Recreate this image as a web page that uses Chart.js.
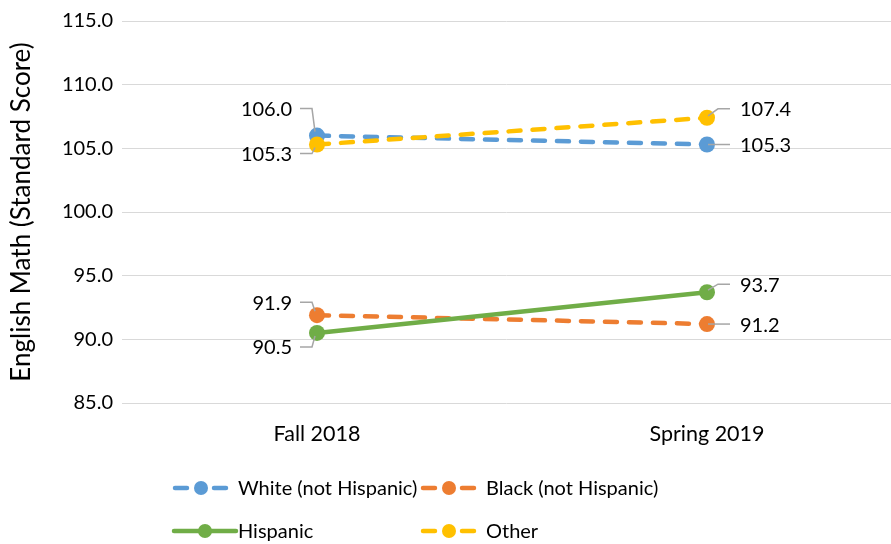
<!DOCTYPE html>
<html>
<head>
<meta charset="utf-8">
<script src="https://cdn.jsdelivr.net/npm/chart.js@4"></script>
<style>
  html, body { margin: 0; padding: 0; background: #fff; }
</style>
</head>
<body>
<canvas id="scoreChart" width="891" height="544"></canvas>
<script>
// Test terms and average standard scores per group
const terms = ['Fall 2018', 'Spring 2019'];
const groups = ['White (not Hispanic)', 'Black (not Hispanic)', 'Hispanic', 'Other'];
const white = [106.0, 105.3];
const black = [91.9, 91.2];
const hispanic = [90.5, 93.7];
const other = [105.3, 107.4];
const yTicks = [85, 90, 95, 100, 105, 110, 115];

const colors = ['#5B9BD5', '#ED7D31', '#70AD47', '#FFC000'];
const dashed = [true, true, false, true];
const drawOrder = [4, 3, 2, 1]; // "Other" ends up on top

// where each value label sits relative to its point
const labelSpots = [
  [{ side: 'left', dy: -27 }, { side: 'right', dy: 0 }],
  [{ side: 'left', dy: -13 }, { side: 'right', dy: 0 }],
  [{ side: 'left', dy: 14 }, { side: 'right', dy: -8 }],
  [{ side: 'left', dy: 9 }, { side: 'right', dy: -9 }],
];

const FONT = '20px Lato';
const TEXT = '#000';

Chart.defaults.font.family = 'Lato';
Chart.defaults.font.size = 20;
Chart.defaults.color = TEXT;

const series = [white, black, hispanic, other];

const datasets = series.map((vals, s) => ({
  label: groups[s],
  data: vals.map((v, i) => ({ x: i, y: v })),
  borderColor: colors[s],
  backgroundColor: colors[s],
  borderWidth: 4.5,
  borderDash: dashed[s] ? [12, 12] : [],
  borderCapStyle: 'round',
  pointRadius: 8,
  pointHoverRadius: 8,
  pointBorderWidth: 0,
  tension: 0,
  order: drawOrder[s],
}));

// Value labels with grey leader lines
const valueLabels = {
  id: 'valueLabels',
  afterDatasetsDraw(chart) {
    const c = chart.ctx;
    c.save();
    c.font = FONT;
    c.fillStyle = TEXT;
    c.textBaseline = 'middle';
    c.strokeStyle = '#A6A6A6';
    c.lineWidth = 1.5;
    chart.data.datasets.forEach((ds, s) => {
      const meta = chart.getDatasetMeta(s);
      meta.data.forEach((pt, i) => {
        const spot = labelSpots[s][i];
        const ty = pt.y + spot.dy;
        const txt = series[s][i].toFixed(1);
        c.beginPath();
        if (spot.side === 'left') {
          const right = pt.x - 25;
          c.moveTo(right + 8, ty);
          c.lineTo(pt.x - 5, ty);
          c.lineTo(pt.x - 2, pt.y + (spot.dy < 0 ? -4 : 3));
          c.stroke();
          c.textAlign = 'right';
          c.fillText(txt, right, ty + 1);
        } else {
          const left = pt.x + 33;
          if (spot.dy === 0) {
            c.moveTo(pt.x + 1, ty);
          } else {
            c.moveTo(pt.x + 1, pt.y - 2);
            c.lineTo(pt.x + 11, ty);
          }
          c.lineTo(pt.x + 23, ty);
          c.stroke();
          c.textAlign = 'left';
          c.fillText(txt, left, ty + 1);
        }
      });
    });
    c.restore();
  }
};

// Two-column legend under the plot
const bottomLegend = {
  id: 'bottomLegend',
  afterDraw(chart) {
    const c = chart.ctx;
    const cols = [172, 420];
    const rows = [488, 531];
    c.save();
    c.font = FONT;
    c.textBaseline = 'middle';
    c.textAlign = 'left';
    chart.data.datasets.forEach((ds, s) => {
      const x = cols[s % 2];
      const y = rows[Math.floor(s / 2)];
      c.strokeStyle = ds.borderColor;
      c.lineWidth = 4.5;
      c.lineCap = 'round';
      c.beginPath();
      if (dashed[s]) {
        c.moveTo(x + 3, y); c.lineTo(x + 15, y);
        c.moveTo(x + 42, y); c.lineTo(x + 54, y);
      } else {
        c.moveTo(x + 2, y); c.lineTo(x + 64, y);
      }
      c.stroke();
      c.fillStyle = ds.backgroundColor;
      c.beginPath();
      c.arc(x + (dashed[s] ? 29 : 33), y, 7, 0, Math.PI * 2);
      c.fill();
      c.fillStyle = TEXT;
      c.fillText(ds.label, x + 66, y + 1);
    });
    c.restore();
  }
};

new Chart(document.getElementById('scoreChart').getContext('2d'), {
  type: 'line',
  data: { datasets },
  options: {
    responsive: false,
    animation: false,
    layout: { autoPadding: false, padding: { top: 19, right: 0, bottom: 81, left: 0 } },
    plugins: {
      legend: { display: false },
      tooltip: { enabled: false },
    },
    scales: {
      x: {
        type: 'linear',
        min: -0.5,
        max: 1.4718,
        grid: { display: false, drawTicks: false },
        border: { display: false },
        afterBuildTicks: (scale) => { scale.ticks = terms.map((t, i) => ({ value: i })); },
        afterFit: (scale) => { scale.height = 60; },
        ticks: {
          padding: 18,
          maxRotation: 0,
          font: { size: 21.5 },
          callback: (v) => terms[v],
        },
      },
      y: {
        min: 85,
        max: 115,
        grid: { color: '#D9D9D9', lineWidth: 1, drawTicks: false },
        border: { display: false },
        afterBuildTicks: (scale) => { scale.ticks = yTicks.map(v => ({ value: v })); },
        afterFit: (scale) => { scale.width = 122; },
        ticks: {
          padding: 9,
          callback: (v) => v.toFixed(1),
        },
        title: {
          display: true,
          text: 'English Math (Standard Score)',
          font: { size: 26 },
          padding: { top: 6, bottom: 0 },
        },
      },
    },
  },
  plugins: [valueLabels, bottomLegend],
});
</script>
</body>
</html>
